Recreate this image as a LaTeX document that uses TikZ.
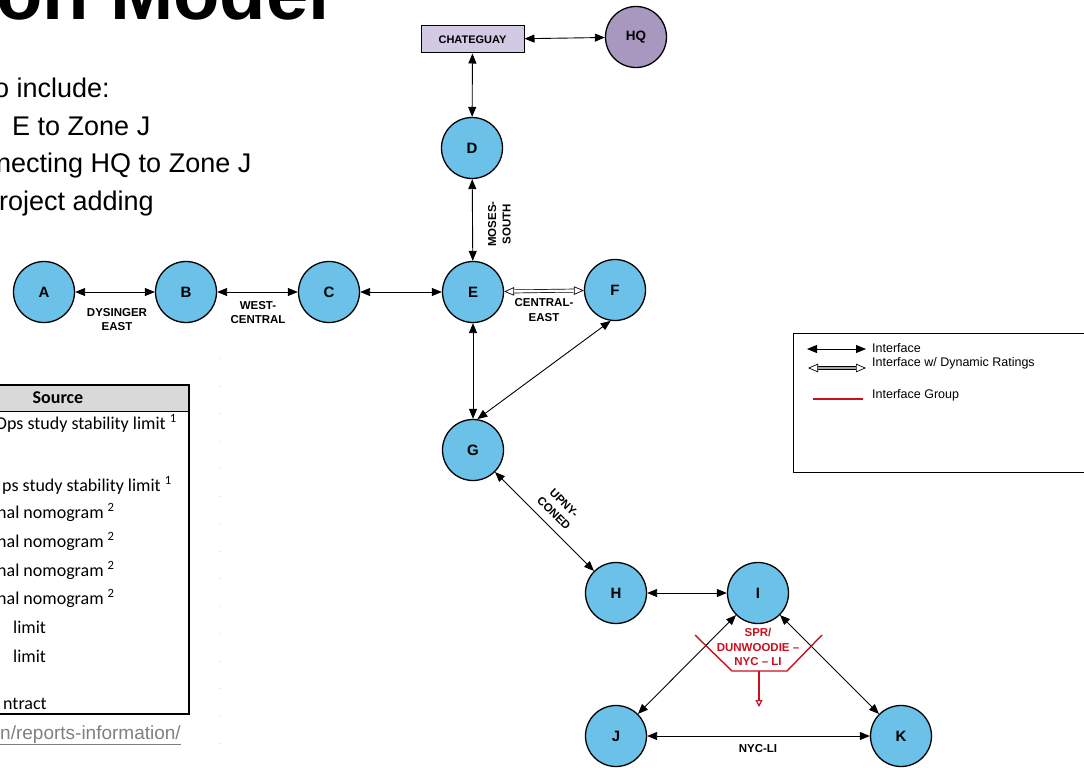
\documentclass[tikz,border=0pt]{standalone}
\usepackage{fontspec}
\setmainfont{Liberation Sans}
\newfontfamily\calib{Carlito}
\usetikzlibrary{arrows.meta}
\definecolor{zoneblue}{RGB}{108,193,232}
\definecolor{hqpurple}{RGB}{168,152,192}
\definecolor{chfill}{RGB}{210,202,226}
\definecolor{grpred}{RGB}{200,16,30}
\definecolor{hdrgray}{RGB}{217,217,217}
\definecolor{urlgray}{RGB}{128,128,128}
\begin{document}
\begin{tikzpicture}[x=1pt,y=-1pt,
  zone/.style={circle,draw,line width=1.3pt,fill=zoneblue,minimum size=61pt,inner sep=0pt,font=\bfseries\fontsize{15}{15}\selectfont},
  hqzone/.style={zone,fill=hqpurple,font=\bfseries\fontsize{13.5}{13.5}\selectfont},
  chbox/.style={draw,line width=1pt,fill=chfill,minimum width=103pt,minimum height=27pt,inner sep=0pt,font=\bfseries\fontsize{11}{11}\selectfont},
  ar/.style={line width=0.9pt,{Triangle[length=10pt,width=8pt]}-{Triangle[length=10pt,width=8pt]}},
  dynar/.style={line width=0.7pt,{Triangle[open,length=10pt,width=8.5pt]}-{Triangle[open,length=10pt,width=8.5pt]}},
  dynshaft/.style={line width=0.7pt,double distance=2.4pt,shorten <=10pt,shorten >=10pt},
  lbl/.style={font=\bfseries\fontsize{11.5}{14.5}\selectfont,align=center,inner sep=0pt},
  redlbl/.style={lbl,text=grpred},
  legtxt/.style={font=\fontsize{12.5}{12.5}\selectfont,anchor=west,inner sep=0pt},
  bodytxt/.style={font=\fontsize{27}{27}\selectfont,anchor=base west,inner sep=0pt},
  tabtxt/.style={font=\calib\fontsize{18}{18}\selectfont,anchor=base west,inner sep=0pt},
  grp/.style={draw=grpred,line width=1.4pt}
]
\useasboundingbox (0,0) rectangle (1084,768);
\clip (0,0) rectangle (1084,768);

% title and body text
\node[font=\bfseries\fontsize{76}{76}\selectfont,anchor=base west,inner sep=0pt] (title) at (-4,20) {on Model};
\node[bodytxt] (l1) at (-6,97) {o include:};
\node[bodytxt] (l2) at (12,135) {E to Zone J};
\node[bodytxt] (l3) at (-4,172) {necting HQ to Zone J};
\node[bodytxt] (l4) at (-1,210) {roject adding};

% table
\fill[hdrgray] (-5,385) rectangle (189,411);
\draw[line width=1pt] (-5,411) -- (189,411);
\draw[line width=1.1pt] (-5,385) rectangle (189,714);
\node[font=\calib\bfseries\fontsize{18}{18}\selectfont,inner sep=0pt] (src) at (58,398) {Source};
\node[tabtxt] (t1) at (-5,429) {Ops study stability limit \textsuperscript{1}};
\node[tabtxt] (t2) at (2,491) {ps study stability limit \textsuperscript{1}};
\node[tabtxt] (t3) at (-3,518) {hal nomogram \textsuperscript{2}};
\node[tabtxt] (t4) at (-3,547) {hal nomogram \textsuperscript{2}};
\node[tabtxt] (t5) at (-3,576) {hal nomogram \textsuperscript{2}};
\node[tabtxt] (t6) at (-3,604) {hal nomogram \textsuperscript{2}};
\node[tabtxt] (t7) at (13,633) {limit};
\node[tabtxt] (t8) at (13,662) {limit};
\node[tabtxt] (t9) at (3,709) {ntract};
\node[font=\fontsize{19}{19}\selectfont,text=urlgray,anchor=base west,inner sep=0pt] (url) at (0,739) {\underline{n/reports-information/}};
\draw[gray!35,line width=1pt,dash pattern=on 1pt off 26.5pt] (219,358) -- (219,745);

% zones
\node[zone] (A) at (44,292) {A};
\node[zone] (B) at (186,292) {B};
\node[zone] (C) at (329,292) {C};
\node[zone] (E) at (473,292) {E};
\node[zone] (F) at (615,290) {F};
\node[zone] (D) at (472,148) {D};
\node[zone] (G) at (473,450) {G};
\node[zone] (H) at (616,593) {H};
\node[zone] (I) at (758,593) {I};
\node[zone] (J) at (616,736) {J};
\node[zone] (K) at (901,736) {K};
\node[hqzone] (HQ) at (636,37) {HQ};
\node[chbox] (CH) at (472.5,39.5) {CHATEGUAY};

% connectors
\draw[ar] (A) -- (B);
\draw[ar] (B) -- (C);
\draw[ar] (C) -- (E);
\draw[ar] (D) -- (E);
\draw[ar] (CH) -- (D);
\draw[ar] (CH) -- (HQ);
\draw[ar] (E) -- (G);
\draw[ar] (G.82) -- (F.262);
\draw[ar] (G) -- (H);
\draw[ar] (H) -- (I);
\draw[ar] (I) -- (J);
\draw[ar] (I) -- (K);
\draw[ar] (J) -- (K);
\draw[dynar] (E) -- (F);
\draw[dynshaft,double=white] (E) -- (F);

% connector labels
\node[lbl] (dys) at (117,319.5) {DYSINGER\\EAST};
\node[lbl] (wc) at (258,312.5) {WEST-\\CENTRAL};
\node[lbl,rotate=90] (ms) at (499.5,224) {MOSES-\\SOUTH};
\node[lbl] (ce) at (544,310) {CENTRAL-\\EAST};
\node[lbl,rotate=-45] (uc) at (559,508) {UPNY-\\CONED};
\node[lbl] (nl) at (758,749) {NYC-LI};

% interface group
\draw[grp] (695,635) -- (732,671) -- (787,671) -- (822,635);
\coordinate (stemtop) at (759,671);
\coordinate (stembot) at (759,707);
\draw[grp,line width=1.2pt,-{Triangle[open,length=7pt,width=7pt]}] (stemtop) -- (stembot);
\node[redlbl] (grplbl) at (758,647) {SPR/\\DUNWOODIE --\\NYC -- LI};

% legend
\draw[line width=1pt] (793,333) rectangle (1095,472);
\coordinate (la1) at (807,349);
\coordinate (lb1) at (866,349);
\draw[ar] (la1) -- (lb1);
\coordinate (la2) at (808,368);
\coordinate (lb2) at (866,368);
\draw[dynar] (la2) -- (lb2);
\draw[dynshaft,double=gray!70] (la2) -- (lb2);
\coordinate (la3) at (813,399);
\coordinate (lb3) at (863,399);
\draw[grp,line width=1.2pt] (la3) -- (lb3);
\node[legtxt] (lt1) at (872,348) {Interface};
\node[legtxt] (lt2) at (872,363) {Interface w/ Dynamic Ratings};
\node[legtxt] (lt3) at (872,395) {Interface Group};
\end{tikzpicture}
\end{document}
